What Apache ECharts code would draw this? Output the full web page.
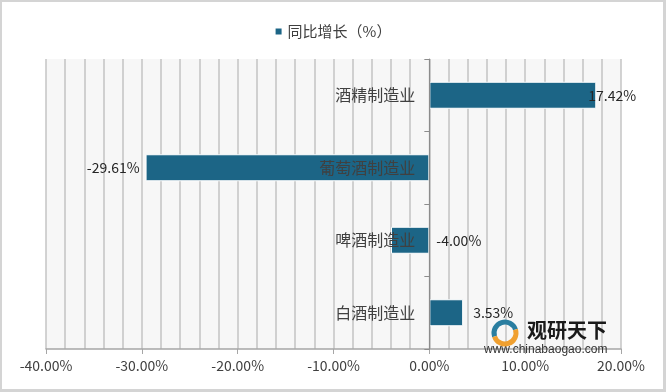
<!DOCTYPE html>
<html>
<head>
<meta charset="utf-8">
<script src="https://cdn.jsdelivr.net/npm/echarts@6/dist/echarts.min.js"></script>
<style>
html,body{margin:0;padding:0;background:#fff;}
#c{width:666px;height:392px;box-sizing:border-box;border:2px solid #d4d4d4;border-right-width:3px;border-bottom-width:3px;}
</style>
</head>
<body>
<div id="c"></div>
<script>
var categories = ['白酒制造业', '啤酒制造业', '葡萄酒制造业', '酒精制造业'];
var values = [3.53, -4.00, -29.61, 17.42];
var seriesName = '同比增长（%）';
var xMin = -40, xMax = 20, xStep = 10;

var labelCfg = [
  {position: 'right', distance: 10, offset: [0, 0]},
  {position: 'right', distance: 7, offset: [0, 0]},
  {position: 'left', distance: 6, offset: [0, 0]},
  {position: 'right', distance: 0, offset: [-8, 0]}
];

var chart = echarts.init(document.getElementById('c'), null, {renderer: 'canvas'});
var FONT = '"Noto Sans CJK SC", "Noto Sans", sans-serif';
chart.setOption({
  animation: false,
  textStyle: {fontFamily: FONT},
  legend: {
    top: 17, left: 'center',
    icon: 'rect', itemWidth: 8, itemHeight: 8, itemGap: 6,
    textStyle: {fontSize: 15, color: '#404040', fontFamily: FONT},
    data: [seriesName]
  },
  grid: {
    left: 44, right: 42, top: 57, bottom: 40,
    containLabel: false, outerBoundsMode: 'none',
    show: true, backgroundColor: '#f7f7f7', borderWidth: 0
  },
  xAxis: {
    type: 'value', min: xMin, max: xMax, interval: xStep,
    axisLine: {show: true, onZero: false, lineStyle: {color: '#a6a6a6', width: 1.5}},
    axisTick: {show: true, length: 5, lineStyle: {color: '#a6a6a6'}},
    axisLabel: {
      color: '#404040', fontSize: 14, margin: 10, fontFamily: FONT,
      formatter: function (v) { return v.toFixed(2) + '%'; }
    },
    splitLine: {show: true, lineStyle: {color: '#c4c4c4', width: 1.5}},
    minorTick: {show: false, splitNumber: 5},
    minorSplitLine: {show: true, lineStyle: {color: '#c4c4c4', width: 1.5}}
  },
  yAxis: {
    type: 'category', data: categories, z: 5,
    axisLine: {show: true, onZero: false, lineStyle: {color: '#8c8c8c', width: 1.2}},
    axisTick: {show: true, length: 5, lineStyle: {color: '#8c8c8c'}},
    axisLabel: {color: '#404040', fontSize: 16, margin: 14, fontFamily: FONT},
    splitLine: {show: false}
  },
  series: [{
    name: seriesName, type: 'bar',
    data: values.map(function (v, i) {
      return {
        value: v,
        label: {position: labelCfg[i].position, distance: labelCfg[i].distance, offset: labelCfg[i].offset}
      };
    }),
    barWidth: 27,
    itemStyle: {color: '#1c6586', borderColor: '#ffffff', borderWidth: 1},
    label: {
      show: true, color: '#262626', fontSize: 14, fontFamily: FONT,
      formatter: function (p) { return p.value.toFixed(2) + '%'; }
    }
  }],
  graphic: [
    {type: 'text', left: 525, top: 318, z: 10,
     style: {text: '观研天下', font: 'bold 20px "Noto Sans CJK SC"', fill: '#1a1a1a'}},
    {type: 'text', left: 482, top: 342, z: 10,
     style: {text: 'www.chinabaogao.com', font: '12px "Liberation Sans", sans-serif', fill: '#333'}},
    {type: 'arc', z: 10, shape: {cx: 503, cy: 331, r: 11, startAngle: Math.PI * 0.9, endAngle: Math.PI * 1.9},
     style: {stroke: '#2a7ea0', lineWidth: 5, fill: null}},
    {type: 'arc', z: 10, shape: {cx: 503, cy: 331, r: 11, startAngle: -Math.PI * 0.1, endAngle: Math.PI * 0.9},
     style: {stroke: '#f0a030', lineWidth: 5, fill: null}}
  ]
});
// move the category axis (line, ticks, labels) to the x = 0 position using the value scale
var zeroPx = chart.convertToPixel({xAxisIndex: 0}, 0);
var minPx = chart.convertToPixel({xAxisIndex: 0}, xMin);
chart.setOption({yAxis: {offset: -(zeroPx - minPx)}});
</script>
</body>
</html>
